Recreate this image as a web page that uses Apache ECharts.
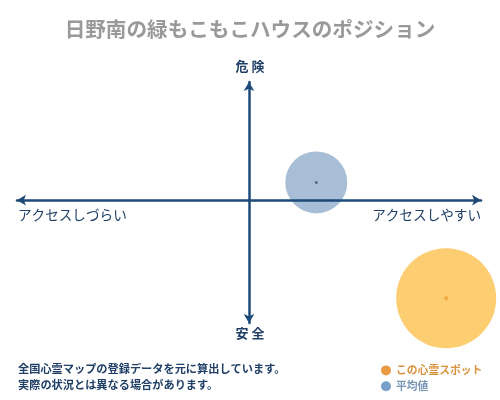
<!DOCTYPE html>
<html>
<head>
<meta charset="utf-8">
<script src="https://cdn.jsdelivr.net/npm/echarts@6/dist/echarts.min.js"></script>
<style>
  html, body { margin: 0; padding: 0; background: #fff; }
  #main { width: 500px; height: 400px; }
</style>
</head>
<body>
<div id="main"></div>
<script>
// ポジションデータ (x: アクセス, y: 危険度)
var seriesNames = ['この心霊スポット', '平均値'];
var spotPoint = [85, -83];
var avgPoint = [29, 15];
var spotSize = 100;
var avgSize = 62;

var axisColor = '#1d4a78';
var jpFont = '"Noto Sans CJK JP", sans-serif';

var myChart = echarts.init(document.getElementById('main'));

var option = {
    backgroundColor: '#fff',
    animation: false,
    title: {
        text: '日野南の緑もこもこハウスのポジション',
        left: 'center',
        top: 14,
        textStyle: {color: '#999', fontSize: 20.6, fontWeight: 'bold', fontFamily: jpFont}
    },
    grid: {left: 17, right: 19, top: 82, bottom: 77},
    xAxis: {
        type: 'value', min: -100, max: 100, z: 5,
        axisLine: {onZero: true, symbol: ['arrow', 'arrow'], symbolSize: [8, 9],
            lineStyle: {color: axisColor, width: 2.5}},
        axisTick: {show: false}, axisLabel: {show: false}, splitLine: {show: false}
    },
    yAxis: {
        type: 'value', min: -104, max: 100, z: 5,
        axisLine: {onZero: true, symbol: ['arrow', 'arrow'], symbolSize: [8, 9],
            lineStyle: {color: axisColor, width: 2.5}},
        axisTick: {show: false}, axisLabel: {show: false}, splitLine: {show: false}
    },
    legend: {
        orient: 'vertical',
        left: 376, top: 360,
        itemWidth: 10, itemHeight: 10, itemGap: 5,
        icon: 'circle',
        data: [
            {name: seriesNames[0], itemStyle: {color: '#e89a45'},
                textStyle: {color: '#d8923c', fontSize: 10.8, fontFamily: jpFont, fontWeight: 'bold'}},
            {name: seriesNames[1], itemStyle: {color: '#76a0c8'},
                textStyle: {color: '#7895b4', fontSize: 10.8, fontFamily: jpFont, fontWeight: 'bold'}}
        ]
    },
    graphic: [
        {type: 'text', left: 'center', top: 60,
            style: {text: '危 険', fill: '#1f3f66', fontSize: 13, fontWeight: 'bold', fontFamily: jpFont}},
        {type: 'text', left: 'center', top: 327,
            style: {text: '安 全', fill: '#1f3f66', fontSize: 13, fontWeight: 'bold', fontFamily: jpFont}},
        {type: 'text', left: 18, top: 208,
            style: {text: 'アクセスしづらい', fill: '#1f3f66', fontSize: 13.6, fontFamily: jpFont}},
        {type: 'text', right: 19, top: 208,
            style: {text: 'アクセスしやすい', fill: '#1f3f66', fontSize: 13.6, fontFamily: jpFont}},
        {type: 'text', left: 18, top: 361,
            style: {text: '全国心霊マップの登録データを元に算出しています。\n実際の状況とは異なる場合があります。',
                fill: '#1f3f66', fontSize: 11.2, lineHeight: 16, fontWeight: 'bold', fontFamily: jpFont}}
    ],
    series: [
        {
            name: seriesNames[0], type: 'scatter', z: 2,
            symbolSize: spotSize,
            itemStyle: {color: '#fdcd72', opacity: 1},
            data: [spotPoint]
        },
        {
            name: seriesNames[1], type: 'scatter', z: 2,
            symbolSize: avgSize,
            itemStyle: {color: '#a8bed7', opacity: 1},
            data: [avgPoint]
        },
        // 中心点
        {
            type: 'scatter', z: 6, symbol: 'diamond', symbolSize: 5,
            itemStyle: {color: '#f0a030'},
            data: [spotPoint]
        },
        {
            type: 'scatter', z: 6, symbolSize: 2.5,
            itemStyle: {color: '#1d3555'},
            data: [avgPoint]
        }
    ]
};

myChart.setOption(option);
</script>
</body>
</html>
